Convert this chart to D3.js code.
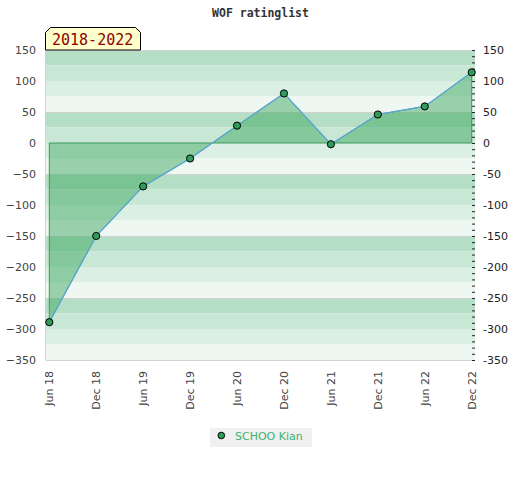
<!DOCTYPE html>
<html lang="en">
<head>
<meta charset="utf-8">
<script src="https://d3js.org/d3.v7.min.js"></script>
<style>
  body { margin: 0; background: #fff; }
  svg text { font-family: "DejaVu Sans", sans-serif; }
</style>
</head>
<body>
<script>
// chart data
var periods = ["Jun 18", "Dec 18", "Jun 19", "Dec 19", "Jun 20", "Dec 20", "Jun 21", "Dec 21", "Jun 22", "Dec 22"];
var ratings = [-289, -150, -70, -25, 28, 80, -2, 46, 59, 114];
var yTicks = [150, 100, 50, 0, -50, -100, -150, -200, -250, -300, -350];
var playerName = "SCHOO Kian";
var chartTitle = "WOF ratinglist";
var rangeLabel = "2018-2022";

var width = 520, height = 480;
// note: "top" is a reserved window property, so use plot* names
var plotLeft = 46, plotRight = 475, plotTop = 50, plotBottom = 360;
var bandColors = ["#b4dec5", "#c8e7d5", "#dcefe4", "#eef7f1"];

var svg = d3.select("body").append("svg")
    .attr("width", width)
    .attr("height", height);

var x = d3.scalePoint()
    .domain(periods)
    .range([49.3, 471.7]);

var y = d3.scaleLinear()
    .domain([-350, 150])
    .range([plotBottom, plotTop]);

// background bands, 25 units each
var bandStarts = d3.range(150, -350, -25);
svg.append("g")
    .selectAll("rect")
    .data(bandStarts)
    .enter()
    .append("rect")
    .attr("x", plotLeft)
    .attr("width", plotRight - plotLeft)
    .attr("y", function (d) { return y(d); })
    .attr("height", function (d) { return y(d - 25) - y(d); })
    .attr("fill", function (d, i) { return bandColors[i % 4]; });

// grid lines every 100
svg.append("g")
    .selectAll("line")
    .data(d3.range(150, -351, -100))
    .enter()
    .append("line")
    .attr("x1", plotLeft)
    .attr("x2", plotRight)
    .attr("y1", function (d) { return Math.round(y(d)) + 0.5; })
    .attr("y2", function (d) { return Math.round(y(d)) + 0.5; })
    .attr("stroke", "#d2d2d2");

svg.append("line")
    .attr("x1", plotLeft - 0.5).attr("x2", plotLeft - 0.5)
    .attr("y1", plotTop).attr("y2", plotBottom)
    .attr("stroke", "#d2d2d2");

// area between the line and zero
var area = d3.area()
    .x(function (d, i) { return x(periods[i]); })
    .y0(y(0))
    .y1(function (d) { return y(d); });

svg.append("path")
    .datum(ratings)
    .attr("d", area)
    .attr("fill", "rgba(64,170,100,0.5)")
    .attr("stroke", "#3c9a5c")
    .attr("stroke-width", 1);

var line = d3.line()
    .x(function (d, i) { return x(periods[i]); })
    .y(function (d) { return y(d); });

svg.append("path")
    .datum(ratings)
    .attr("d", line)
    .attr("fill", "none")
    .attr("stroke", "#5aa5da")
    .attr("stroke-width", 1.2);

svg.append("g")
    .selectAll("circle")
    .data(ratings)
    .enter()
    .append("circle")
    .attr("cx", function (d, i) { return x(periods[i]); })
    .attr("cy", function (d) { return y(d); })
    .attr("r", 3.6)
    .attr("fill", "#2f9c5c")
    .attr("stroke", "#000")
    .attr("stroke-width", 1);

// left axis
var leftAxis = svg.append("g")
    .attr("transform", "translate(" + plotLeft + ",0)")
    .call(d3.axisLeft(y).tickValues(yTicks).tickSize(0).tickPadding(10));
leftAxis.select(".domain").remove();
leftAxis.selectAll("text")
    .style("font-size", "11px")
    .attr("fill", "#444");

// right axis with minor ticks
var rightAxis = svg.append("g")
    .attr("transform", "translate(472,0)")
    .call(d3.axisRight(y)
        .tickValues(d3.range(-350, 151, 10))
        .tickSize(3)
        .tickPadding(8)
        .tickFormat(function (d) { return yTicks.indexOf(d) >= 0 ? d : ""; }));
rightAxis.select(".domain").remove();
rightAxis.selectAll("line").attr("stroke", "#222");
rightAxis.selectAll("text")
    .style("font-size", "11px")
    .attr("fill", "#222");

// x labels, rotated
svg.append("g")
    .selectAll("text")
    .data(periods)
    .enter()
    .append("text")
    .attr("transform", function (d) { return "translate(" + x(d) + ",371) rotate(-90)"; })
    .attr("text-anchor", "end")
    .attr("dy", "0.35em")
    .style("font-size", "11px")
    .attr("fill", "#444")
    .text(function (d) { return d; });

// title
svg.append("text")
    .attr("x", 260.5)
    .attr("y", 17)
    .attr("text-anchor", "middle")
    .style("font-family", "'DejaVu Sans Mono', monospace")
    .style("font-size", "11.5px")
    .style("font-weight", "bold")
    .attr("fill", "#333")
    .text(chartTitle);

// period tag
svg.append("path")
    .attr("d", "M45.5,50 L45.5,32.5 L50.5,27.5 L135.5,27.5 L140.5,32.5 L140.5,50 Z")
    .attr("fill", "#ffffcc")
    .attr("stroke", "#000");

svg.append("text")
    .attr("x", 52)
    .attr("y", 45)
    .style("font-family", "'DejaVu Sans Mono', monospace")
    .style("font-size", "15px")
    .attr("fill", "#8b0000")
    .text(rangeLabel);

// legend
svg.append("rect")
    .attr("x", 210).attr("y", 428)
    .attr("width", 102).attr("height", 19)
    .attr("fill", "#f0f0f0");
svg.append("circle")
    .attr("cx", 221.3).attr("cy", 435.5)
    .attr("r", 3.3)
    .attr("fill", "#2f9c5c")
    .attr("stroke", "#000");
svg.append("text")
    .attr("x", 235).attr("y", 439.5)
    .style("font-size", "11px")
    .attr("fill", "#3cb371")
    .text(playerName);
</script>
</body>
</html>
